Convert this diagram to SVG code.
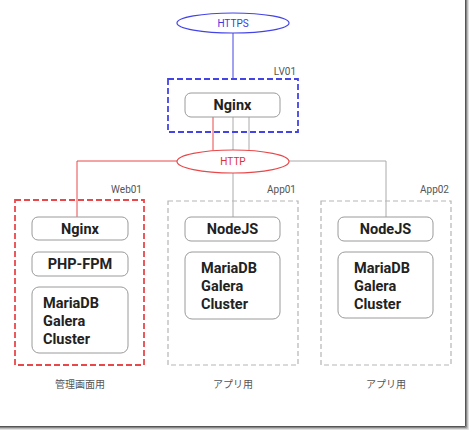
<svg xmlns="http://www.w3.org/2000/svg" width="470" height="430" viewBox="0 0 470 430">
<style>
.box{fill:#fff;stroke:#9a9a9a;stroke-width:1}
.t{font-family:Roboto,"Liberation Sans",sans-serif;font-weight:bold;font-size:14.5px;fill:#222}
.lbl{font-family:Roboto,"Liberation Sans",sans-serif;font-size:10px;fill:#555}
.jp{font-family:"Noto Sans CJK JP",sans-serif;font-size:10px;fill:#555}
.blue{stroke:#4444e6}
.red{stroke:#e8484a}
.gray{stroke:#aaaaaa}
</style>
<rect width="470" height="430" fill="#fff"/>
<!-- frame shadow -->
<g id="frame" fill="none">
<line x1="465.5" y1="0" x2="465.5" y2="426.5" stroke="#555" stroke-width="1"/>
<line x1="0" y1="426.5" x2="465.5" y2="426.5" stroke="#555" stroke-width="1"/>
<line x1="466.5" y1="0" x2="466.5" y2="427.5" stroke="#888" stroke-width="1"/>
<line x1="0" y1="427.5" x2="466.5" y2="427.5" stroke="#888" stroke-width="1"/>
<line x1="467.5" y1="0" x2="467.5" y2="428.5" stroke="#bbb" stroke-width="1"/>
<line x1="0" y1="428.5" x2="467.5" y2="428.5" stroke="#bbb" stroke-width="1"/>
<line x1="468.5" y1="0" x2="468.5" y2="429.5" stroke="#e0e0e0" stroke-width="1"/>
<line x1="0" y1="429.5" x2="468.5" y2="429.5" stroke="#e0e0e0" stroke-width="1"/>
</g>
<g id="connectors" fill="none" stroke-width="1">
<line class="blue" x1="233" y1="33" x2="233" y2="79"/>
<line class="red" x1="213" y1="117" x2="213" y2="150.5"/>
<line class="gray" x1="233" y1="117" x2="233" y2="150"/>
<line class="gray" x1="249" y1="117" x2="249" y2="150.5"/>
<polyline class="red" points="177,161 77,161 77,217"/>
<polyline class="gray" points="289,161 386,161 386,217"/>
<line class="gray" x1="233" y1="172.5" x2="233" y2="217"/>
</g>
<g id="https">
<ellipse cx="233" cy="23" rx="56" ry="10" fill="#fff" stroke="#4444e6" stroke-width="1.2"/>
<text x="233" y="26.5" text-anchor="middle" class="lbl" style="fill:#3a3ae0">HTTPS</text>
</g>
<g id="lv01">
<rect x="168" y="79" width="130" height="53" fill="none" stroke="#4444e6" stroke-width="1.8" stroke-dasharray="6,3"/>
<text x="296" y="75" text-anchor="end" class="lbl">LV01</text>
<rect class="box" x="185" y="93" width="95" height="24" rx="6"/>
<text x="232.5" y="110" text-anchor="middle" class="t">Nginx</text>
</g>
<g id="http">
<ellipse cx="233" cy="161.5" rx="56" ry="11.5" fill="#fff" stroke="#e8484a" stroke-width="1.2"/>
<text x="233" y="165" text-anchor="middle" class="lbl" style="fill:#e03030">HTTP</text>
</g>
<g id="web01">
<rect x="15" y="200" width="129" height="165" fill="none" stroke="#e8484a" stroke-width="1.8" stroke-dasharray="6,3"/>
<text x="142" y="193" text-anchor="end" class="lbl">Web01</text>
<rect class="box" x="32" y="217" width="96" height="23" rx="6"/>
<text x="80" y="234" text-anchor="middle" class="t">Nginx</text>
<rect class="box" x="32" y="252" width="96" height="24" rx="6"/>
<text x="80" y="269" text-anchor="middle" class="t">PHP-FPM</text>
<rect class="box" x="32" y="287" width="96" height="66" rx="7"/>
<text class="t"><tspan x="43" y="308">MariaDB</tspan><tspan x="43" y="326">Galera</tspan><tspan x="43" y="344">Cluster</tspan></text>
<text x="80" y="388" text-anchor="middle" class="jp">管理画面用</text>
</g>
<g id="app01">
<rect x="168" y="201" width="130" height="164" fill="none" stroke="#b5b5b5" stroke-width="1.2" stroke-dasharray="5,3"/>
<text x="296" y="193" text-anchor="end" class="lbl">App01</text>
<rect class="box" x="185" y="217" width="95" height="24" rx="6"/>
<text x="232.5" y="234" text-anchor="middle" class="t">NodeJS</text>
<rect class="box" x="185" y="252" width="95" height="67" rx="7"/>
<text class="t"><tspan x="201" y="273">MariaDB</tspan><tspan x="201" y="291">Galera</tspan><tspan x="201" y="309">Cluster</tspan></text>
<text x="233" y="388" text-anchor="middle" class="jp">アプリ用</text>
</g>
<g id="app02">
<rect x="321" y="201" width="130" height="164" fill="none" stroke="#b5b5b5" stroke-width="1.2" stroke-dasharray="5,3"/>
<text x="449" y="193" text-anchor="end" class="lbl">App02</text>
<rect class="box" x="338" y="217" width="95" height="24" rx="6"/>
<text x="385.5" y="234" text-anchor="middle" class="t">NodeJS</text>
<rect class="box" x="338" y="252" width="95" height="66" rx="7"/>
<text class="t"><tspan x="354" y="273">MariaDB</tspan><tspan x="354" y="291">Galera</tspan><tspan x="354" y="309">Cluster</tspan></text>
<text x="386" y="388" text-anchor="middle" class="jp">アプリ用</text>
</g>
</svg>
